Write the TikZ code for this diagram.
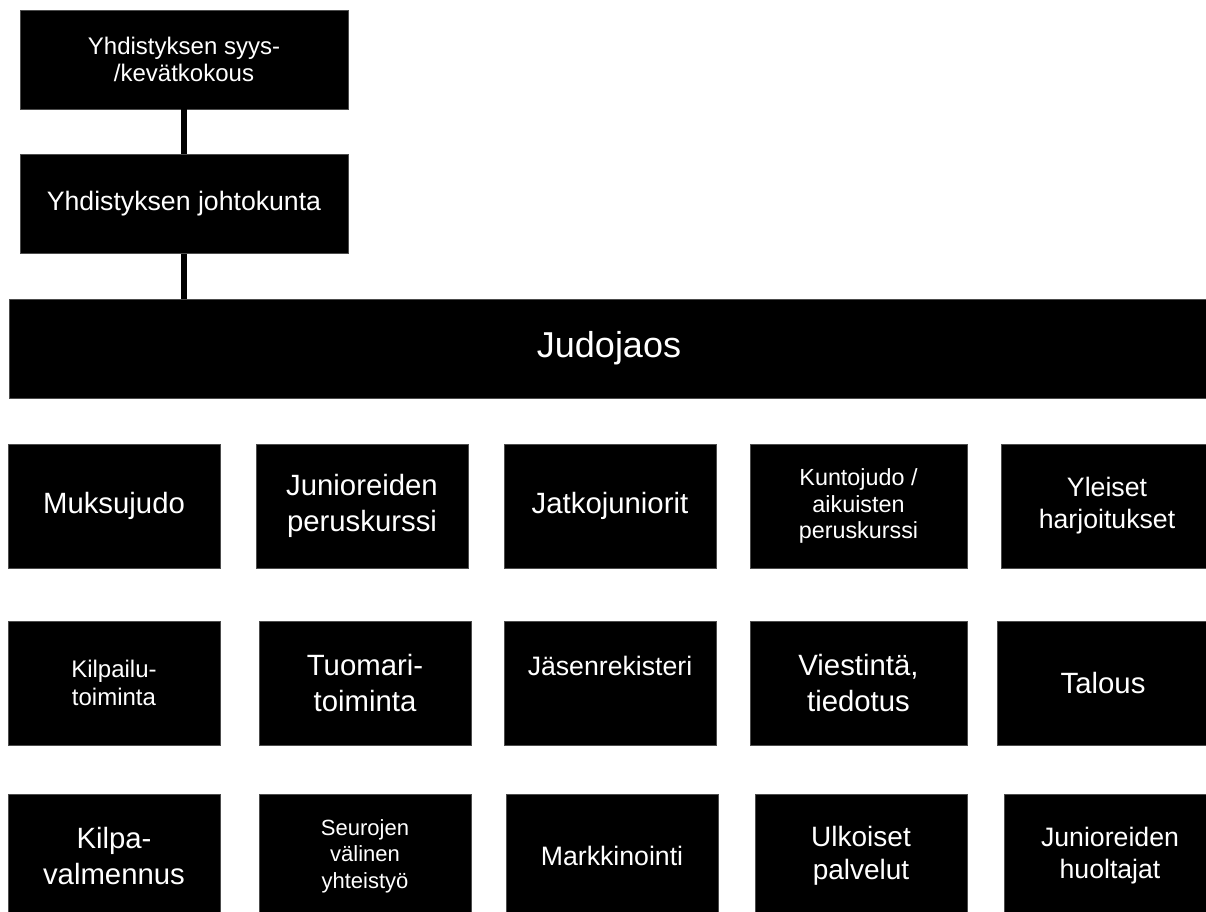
\documentclass[tikz,border=0pt]{standalone}
\usepackage{fontspec}
\setmainfont{Liberation Sans}
\newcommand{\koko}[2]{\fontsize{#1}{#2}\selectfont}

\begin{document}
\begin{tikzpicture}[x=0.75pt,y=-0.75pt,
  laatikko/.style={fill=black,draw=black!70,line width=0.6pt,text=white,
    align=center,inner sep=0pt,minimum width=159pt,minimum height=93pt},
  leveä/.style={laatikko,minimum width=246pt,minimum height=74.25pt},
  yhteys/.style={line width=5pt},
  f27/.style={font=\koko{27}{32}},
  f22/.style={font=\koko{22}{26.5}},
  f21/.style={font=\koko{21}{25}},
  f20/.style={font=\koko{20}{24}},
  f18/.style={font=\koko{18}{20.5}},
  f17/.style={font=\koko{17.5}{20}},
  f16/.style={font=\koko{16.5}{20}}]
\useasboundingbox (0,0) rectangle (1206,912);
\clip (0,0) rectangle (1206,912);

% yhdistys
\node[leveä,f18] (kokous) at (184,59.5) {Yhdistyksen syys-\\/kevätkokous};
\node[leveä,f20] (johtokunta) at (184,204) {Yhdistyksen johtokunta};
\node[laatikko,f27,minimum width=900pt,minimum height=74.25pt] (judojaos) at (609,348.5) {Judojaos};
\draw[yhteys] (kokous) -- (johtokunta);
\draw[yhteys] (johtokunta.south) -- (johtokunta.south |- judojaos.north);

% ryhmät
\node[laatikko,f22] (muksu) at (114,506) {Muksujudo};
\node[laatikko,f22] (perus) at (362,506) {Junioreiden\\peruskurssi};
\node[laatikko,f22] (jatko) at (610,506) {Jatkojuniorit};
\node[laatikko,f17,minimum width=162.75pt] (kunto) at (858.5,506) {Kuntojudo /\\aikuisten\\peruskurssi};
\node[laatikko,f20] (yleiset) at (1107,506) {Yleiset\\harjoitukset};

% toiminnot
\node[laatikko,f18] (kilpailu) at (114,683) {Kilpailu-\\toiminta};
\node[laatikko,f22] (tuomari) at (365,683) {Tuomari-\\toiminta};
\node[laatikko,f20] (jasen) at (610,683) {Jäsenrekisteri\\[2pt]~};
\node[laatikko,f22,minimum width=162.75pt] (viestinta) at (858.5,683) {Viestintä,\\tiedotus};
\node[laatikko,f22] (talous) at (1103,683) {Talous};

\node[laatikko,f22] (valmennus) at (114,856) {Kilpa-\\valmennus};
\node[laatikko,f16] (seurat) at (365,856) {Seurojen\\välinen\\yhteistyö};
\node[laatikko,f20] (markkinointi) at (612,856) {Markkinointi};
\node[laatikko,f21] (ulkoiset) at (861,856) {Ulkoiset\\palvelut};
\node[laatikko,f20] (huoltajat) at (1110,856) {Junioreiden\\huoltajat};
\end{tikzpicture}
\end{document}
